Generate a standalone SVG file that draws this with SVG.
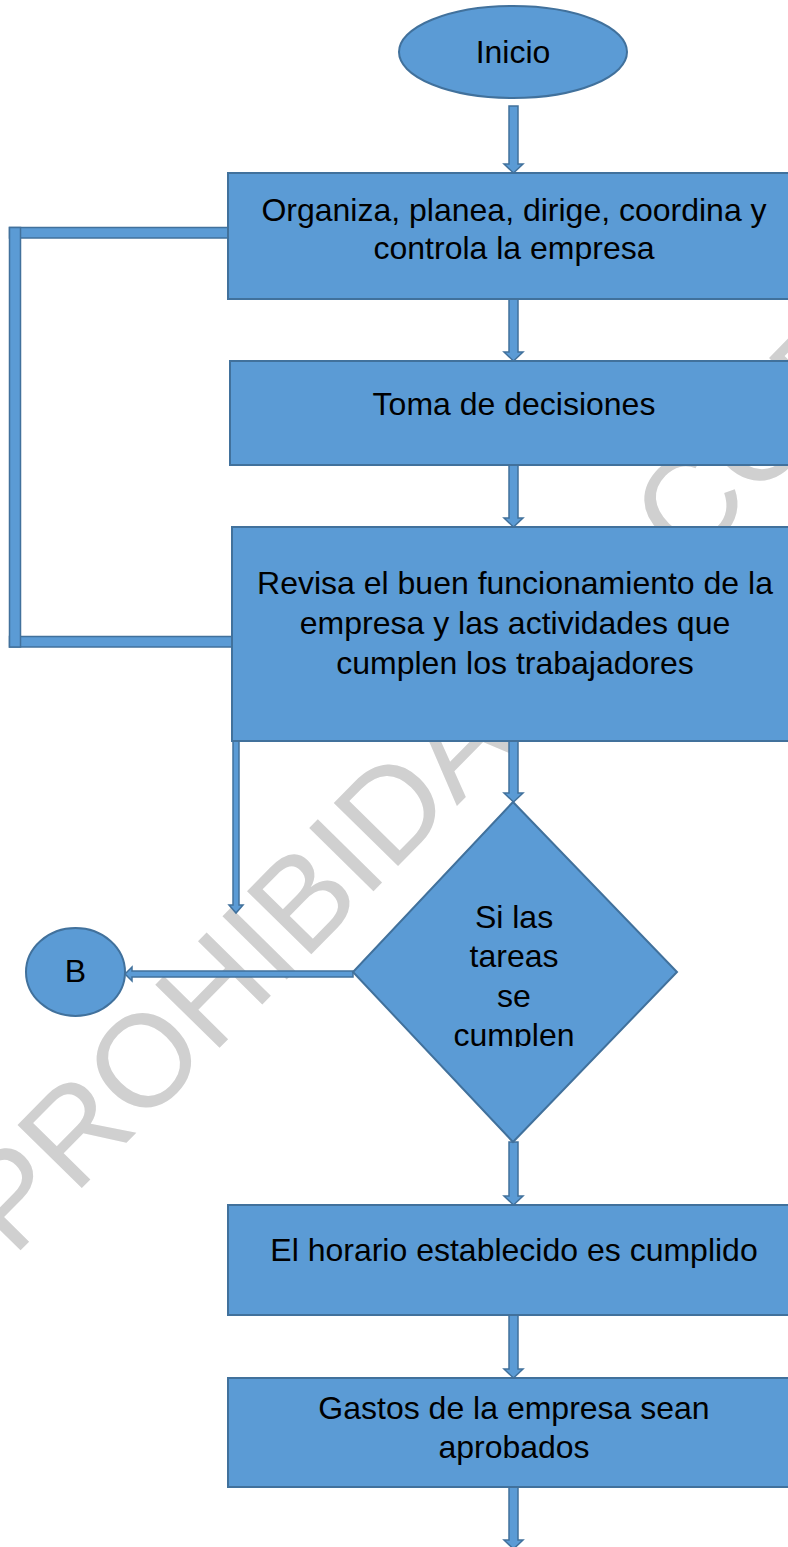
<svg xmlns="http://www.w3.org/2000/svg" width="788" height="1547" viewBox="0 0 788 1547">
<style>
.shape{fill:#5B9BD5;stroke:#41719C;stroke-width:2}
.conn{fill:#5B9BD5;stroke:#41719C;stroke-width:1.5}
.lbl{font-family:"Liberation Sans",Arial,sans-serif;font-size:32px;fill:#000;text-anchor:middle}
.wm{font-family:"Liberation Sans",Arial,sans-serif;font-size:131px;fill:#D0D0D0}
</style>
<defs>
<clipPath id="dclip"><rect x="340" y="790" width="350" height="257"/></clipPath>
</defs>
<rect width="788" height="1547" fill="#fff"/>
<g id="watermark">
<text class="wm" transform="translate(13,1258) rotate(-45.5)">PROHIBIDA</text>
<text class="wm" transform="translate(688,569) rotate(-45.5)">COPIA</text>
</g>
<g id="connectors">
<path class="conn" d="M509,106 L518,106 L518,164 L523,164 L513.5,173 L504,164 L509,164 Z"/>
<path class="conn" d="M509,299 L518,299 L518,352 L523,352 L513.5,361 L504,352 L509,352 Z"/>
<path class="conn" d="M509,465 L518,465 L518,518 L523,518 L513.5,527 L504,518 L509,518 Z"/>
<path class="conn" d="M509,741 L518,741 L518,793 L523,793 L513.5,802 L504,793 L509,793 Z"/>
<path class="conn" d="M509,1142 L518,1142 L518,1196 L523,1196 L513.5,1205 L504,1196 L509,1196 Z"/>
<path class="conn" d="M509,1315 L518,1315 L518,1369 L523,1369 L513.5,1378 L504,1369 L509,1369 Z"/>
<path class="conn" d="M509,1487 L518,1487 L518,1540 L523,1540 L513.5,1549 L504,1540 L509,1540 Z"/>
<path class="conn" d="M233,741 L239,741 L239,905 L243,905 L236,913 L229,905 L233,905 Z"/>
<path class="conn" d="M353,971 L353,977 L132,977 L132,981 L125,974 L132,967 L132,971 Z"/>
<rect class="conn" x="9.5" y="227.5" width="219" height="10.5"/>
<rect class="conn" x="9.5" y="636.5" width="223" height="10.5"/>
<rect class="conn" x="9.5" y="227.5" width="11" height="419.5"/>
</g>
<g id="inicio">
<ellipse class="shape" cx="513" cy="52" rx="114" ry="46"/>
<text class="lbl" x="513" y="63">Inicio</text>
</g>
<g id="organiza">
<rect class="shape" x="228" y="173" width="572" height="126"/>
<text class="lbl" x="514" y="221">Organiza, planea, dirige, coordina y</text>
<text class="lbl" x="514" y="259">controla la empresa</text>
</g>
<g id="toma">
<rect class="shape" x="230" y="361" width="570" height="104"/>
<text class="lbl" x="514" y="415">Toma de decisiones</text>
</g>
<g id="revisa">
<rect class="shape" x="232" y="527" width="568" height="214"/>
<text class="lbl" x="515" y="594">Revisa el buen funcionamiento de la</text>
<text class="lbl" x="515" y="634">empresa y las actividades que</text>
<text class="lbl" x="515" y="674">cumplen los trabajadores</text>
</g>
<g id="decision">
<polygon class="shape" points="513,802 677,972 513,1142 353,972"/>
<g clip-path="url(#dclip)">
<text class="lbl" x="514" y="928">Si las</text>
<text class="lbl" x="514" y="967">tareas</text>
<text class="lbl" x="514" y="1007">se</text>
<text class="lbl" x="514" y="1046">cumplen</text>
</g>
</g>
<g id="b">
<ellipse class="shape" cx="75.5" cy="972" rx="49.5" ry="44"/>
<text class="lbl" x="75.5" y="982">B</text>
</g>
<g id="horario">
<rect class="shape" x="228" y="1205" width="572" height="110"/>
<text class="lbl" x="514" y="1261">El horario establecido es cumplido</text>
</g>
<g id="gastos">
<rect class="shape" x="228" y="1378" width="572" height="109"/>
<text class="lbl" x="514" y="1419">Gastos de la empresa sean</text>
<text class="lbl" x="514" y="1458">aprobados</text>
</g>
</svg>
